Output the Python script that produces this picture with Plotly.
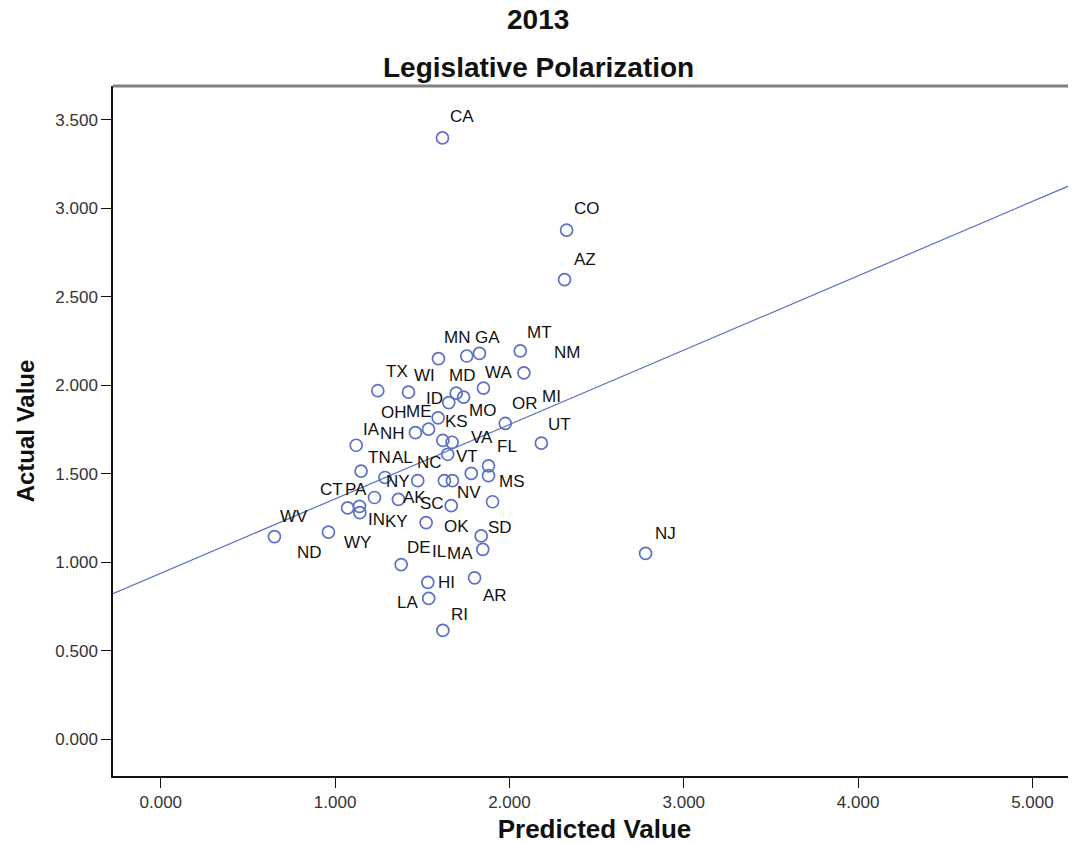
import plotly.graph_objects as go

# ---- data ----
states = ["CA", "CO", "AZ", "MN", "GA", "MI", "MT", "NM", "WA", "TX",
          "WI", "MD", "MO", "ID", "ME", "OH", "NH", "OR", "UT", "KS",
          "VA", "VT", "FL", "MS", "NV", "IA", "TN", "AL", "NC", "AK",
          "SC", "NY", "IN", "CT", "PA", "WY", "IL", "SD", "KY", "WV",
          "ND", "OK", "MA", "DE", "AR", "HI", "LA", "RI", "NJ"]
predicted = [1.616, 2.328, 2.316, 1.593, 1.755, 1.828, 2.062, 2.083, 1.851, 1.245,
             1.421, 1.695, 1.737, 1.652, 1.591, 1.536, 1.461, 1.976, 2.183, 1.618,
             1.671, 1.646, 1.880, 1.880, 1.781, 1.121, 1.149, 1.286, 1.474, 1.627,
             1.673, 1.226, 1.363, 1.072, 1.140, 1.142, 1.666, 1.903, 1.522, 0.652,
             0.962, 1.838, 1.847, 1.379, 1.800, 1.532, 1.537, 1.618, 2.781]
actual = [3.397, 2.876, 2.596, 2.150, 2.165, 2.180, 2.194, 2.070, 1.984, 1.969,
          1.961, 1.955, 1.933, 1.902, 1.816, 1.752, 1.732, 1.784, 1.673, 1.688,
          1.678, 1.610, 1.545, 1.489, 1.502, 1.661, 1.515, 1.479, 1.461, 1.461,
          1.461, 1.366, 1.355, 1.307, 1.316, 1.281, 1.320, 1.342, 1.224, 1.145,
          1.170, 1.149, 1.073, 0.987, 0.912, 0.887, 0.796, 0.615, 1.050]
fit_intercept = 0.938
fit_slope = 0.420
x_ticks = [0, 1, 2, 3, 4, 5]
y_ticks = [0, 0.5, 1, 1.5, 2, 2.5, 3, 3.5]

# ---- label placement (screen-pixel offsets, styling only) ----
label_dx = [20, 20, 20, 19, 21, 72, 19, 43, 15, 19,
            16, 6, 19, -14, -19, -35, -23, 20, 18, 14,
            30, 19, 18, 23, -2, 15, 18, 18, 12, -30,
            -20, 23, -22, -16, -4, -2, -12, 7, -30, 20,
            -19, -25, -23, 18, 20, 19, -21, 17, 20]
label_dy = [-21, -22, -20, -21, -19, 43, -18, -20, -16, -19,
            -17, -18, 13, -4, -6, -17, 1, -20, -19, -19,
            -5, 2, -19, 6, 19, -16, -14, -20, -18, 17,
            23, -16, 20, -18, -17, 30, 46, 26, -1, -20,
            20, -9, 4, -17, 18, 0, 4, -16, -20]

x_range = [-0.274, 5.25]
y_range = [-0.207, 3.69]

blue = "#5b70c6"
font_family = "Liberation Sans, Arial, sans-serif"
fig = go.Figure()

fig.add_trace(go.Scatter(
    x=x_range,
    y=[fit_intercept + fit_slope * v for v in x_range],
    mode="lines", line=dict(color=blue, width=1.2),
    hoverinfo="skip", showlegend=False))

fig.add_trace(go.Scatter(
    x=predicted, y=actual, mode="markers", text=states,
    marker=dict(symbol="circle-open", size=12, color=blue,
                line=dict(width=1.7, color=blue)),
    showlegend=False))

for s, xv, yv, dx, dy in zip(states, predicted, actual, label_dx, label_dy):
    fig.add_annotation(x=xv, y=yv, text=s, showarrow=False,
                       xshift=dx, yshift=-dy,
                       font=dict(family=font_family, size=17, color="#111"))

title_font = dict(family=font_family, size=28, color="#111")
# page body has an 8px margin: figure is 1068x836 placed at (8, 8);
# titles are centred on the whole picture, not on the plot area
title_x = (538 - 113) / 963
fig.add_annotation(xref="paper", yref="paper", x=title_x, y=(768 - 20) / 682,
                   text="<b>2013</b>", showarrow=False, font=title_font,
                   yanchor="middle")
fig.add_annotation(xref="paper", yref="paper", x=title_x, y=(768 - 68) / 682,
                   text="<b>Legislative Polarization</b>",
                   showarrow=False, font=title_font, yanchor="middle")

fig.add_shape(type="line", xref="paper", yref="paper", x0=0, x1=1, y0=1, y1=1,
              line=dict(color="#808080", width=3))

axis_common = dict(showgrid=False, zeroline=False, showline=True,
                   linecolor="#111", linewidth=1.5, ticks="outside",
                   ticklen=10, tickwidth=1.3, tickcolor="#111",
                   tickfont=dict(family=font_family, size=17, color="#333"),
                   tickformat=".3f")

fig.update_xaxes(range=x_range, tickvals=x_ticks, **axis_common,
                 title=dict(text="<b>Predicted Value</b>", standoff=12,
                            font=dict(family=font_family, size=26, color="#111")))
fig.update_yaxes(range=y_range, tickvals=y_ticks, **axis_common,
                 title=dict(text="<b>Actual Value</b>", standoff=14,
                            font=dict(family=font_family, size=24, color="#111")))

fig.update_layout(width=1068, height=836, plot_bgcolor="white", paper_bgcolor="white",
                  margin=dict(l=105, r=0, t=78, b=68), showlegend=False)

fig.write_html("out.html")
